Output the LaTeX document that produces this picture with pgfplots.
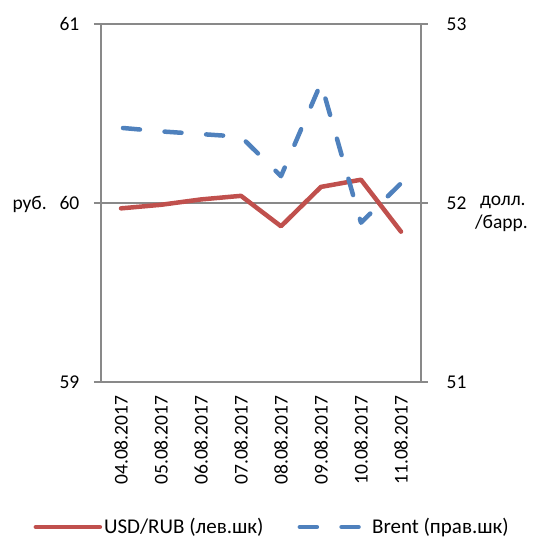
\documentclass[border=0pt]{standalone}
\usepackage{pgfplots}
\pgfplotsset{compat=1.18}
\usepackage{fontspec}
\setmainfont{Carlito}
\definecolor{cred}{HTML}{C0504D}
\definecolor{cblue}{HTML}{4F81BD}
\definecolor{cgray}{HTML}{898989}
\newcommand{\fs}{\fontsize{19.5bp}{23.4bp}\selectfont}
\newcommand{\fl}{\fontsize{21bp}{25bp}\selectfont}
\begin{document}
\fs
\begin{tikzpicture}
\pgfplotsset{
  common/.style={
    width=320bp, height=358bp, scale only axis,
    xmin=-0.5, xmax=7.5,
    /pgf/number format/assume math mode=true,
    tick label style={font=\fs, text=black},
    axis line style={cgray, line width=1.1bp},
    major tick style={cgray, line width=1.1bp},
    minor tick style={cgray, line width=1.1bp},
    tick align=outside,
    major tick length=7bp,
    minor tick length=8bp,
  }
}
\begin{axis}[common, name=ax,
  ymin=59, ymax=61, ytick={59,60,61},
  ytick pos=left,
  yticklabel style={xshift=-8bp},
  ymajorgrids, grid style={cgray, line width=1.1bp},
  xtick={0,...,7},
  xticklabels={04.08.2017,05.08.2017,06.08.2017,07.08.2017,08.08.2017,09.08.2017,10.08.2017,11.08.2017},
  minor xtick={-0.5,0.5,...,7.5},
  xtick pos=bottom,
  xtick style={draw=none},
  xticklabel style={rotate=90, anchor=east},
  legend columns=2,
  legend style={at={(0.535,-0.405)}, anchor=center, draw=none, fill=none, font=\fl,
    /tikz/every even column/.append style={column sep=30bp}},
  legend image code/.code={\draw[#1] (0bp,0bp) -- (64bp,0bp);},
]
\addplot[cred, line width=4.5bp, line cap=round, line join=round] coordinates {
(0,59.97) (1,59.99) (2,60.02) (3,60.04) (4,59.87) (5,60.09) (6,60.13) (7,59.84)};
\addlegendentry{USD/RUB (лев.шк)}
\addlegendimage{cblue, line width=4.5bp, line cap=round, dash pattern=on 17bp off 24.7bp, dash phase=-2bp}
\addlegendentry{\hspace{6bp}Brent (прав.шк)}
\end{axis}
\begin{axis}[common,
  ymin=51, ymax=53, ytick={51,52,53},
  axis x line=none,
  axis y line*=right,
  ytick pos=right,
  yticklabel style={xshift=12bp},
]
\addplot[cblue, line width=4.5bp, line cap=round, line join=round, dash pattern=on 17bp off 24.7bp, dash phase=-2bp] coordinates {
(0,52.42) (1,52.40) (2,52.385) (3,52.37) (4,52.15) (5,52.67) (6,51.89) (7,52.11)};
\end{axis}
\node[anchor=base east, font=\fs, inner sep=0pt] at ([xshift=-54bp, yshift=-6.5bp]ax.west) {руб.};
\node[anchor=base west, font=\fs, inner sep=0pt] at ([xshift=59bp, yshift=-3bp]ax.east) {долл.};
\node[anchor=base west, font=\fs, inner sep=0pt] at ([xshift=54bp, yshift=-26bp]ax.east) {/барр.};
\pgfresetboundingbox
\path[use as bounding box] ([shift={(-101bp,-156bp)}]ax.south west) rectangle ([shift={(115bp,24bp)}]ax.north east);
\end{tikzpicture}
\end{document}
